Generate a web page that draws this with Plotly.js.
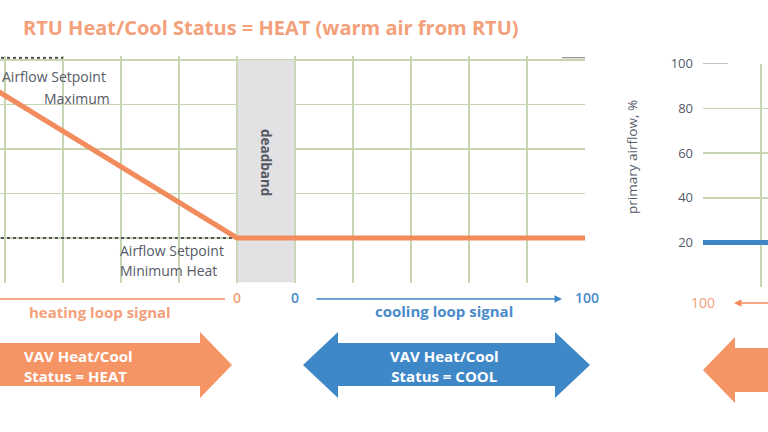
<!DOCTYPE html>
<html><head><meta charset="utf-8">
<script src="https://cdn.plot.ly/plotly-3.0.1.min.js"></script>
<style>html,body{margin:0;padding:0;background:#fff;}#chart{width:768px;height:432px;}</style>
</head><body><div id="chart"></div>
<script>
// ---------------- data ----------------
const heatingSignal = [100, 0];          // heating loop signal, % (left to right)
const coolingSignal = [0, 100];          // cooling loop signal, %
const airflowHeating = [100, 20];        // primary airflow, % at heating 100 / 0
const airflowCooling = [20, 20];         // primary airflow, % across cooling loop
const airflowMaxLine = [101, 101];       // Airflow Setpoint Maximum reference (drawn just above 100)
const airflowMinLine = [20, 20];         // Airflow Setpoint Minimum Heat reference
const rightSignal = [0, 2];              // right panel signal position (columns)
const airflowRight = [20, 20];           // right panel primary airflow, %
const airflowTicks = [20, 40, 60, 80, 100];
const airflowTickText = ['20', '40', '60', '80', '100'];
const signalEndText = ['0', '0', '100', '100'];

// ---------------- helpers ----------------
const STEP = 20;                          // signal % per grid column
const h2x = h => -h / STEP;               // heating signal -> axis position
const c2x = c => 1 + c / STEP;            // cooling signal -> axis position (deadband 0..1)
const W = 768, H = 432;
const px = v => v / W, py = v => 1 - v / H;
const PXPCT = 2.225;                      // pixels per airflow %
const YTOP = 101.6;                       // top of left plot range

const ORANGE = '#f28c5c', ORANGE_T = '#f4a07a', BLUE = '#3f86c7', BLUE_T = '#4a8bcb';
const GRID = 'rgb(200,213,178)', DARK = '#555a66';
const FONT = 'Open Sans, Lato, sans-serif';

const orangeX = [h2x(heatingSignal[0]), h2x(heatingSignal[1]), c2x(coolingSignal[1])];
const orangeY = [airflowHeating[0], airflowHeating[1], airflowCooling[1]];

const traces = [
  {x: [h2x(100), h2x(60)], y: airflowMaxLine, mode: 'lines', line: {color: '#444', width: 1.8, dash: 'dot'}, xaxis: 'x', yaxis: 'y', hoverinfo: 'skip'},
  {x: [c2x(92), c2x(100)], y: airflowMaxLine, mode: 'lines', line: {color: '#777', width: 1.2}, xaxis: 'x', yaxis: 'y', hoverinfo: 'skip'},
  {x: [h2x(100), h2x(0)], y: airflowMinLine, mode: 'lines', line: {color: '#555', width: 1.8, dash: 'dot'}, xaxis: 'x', yaxis: 'y', hoverinfo: 'skip'},
  {x: orangeX, y: orangeY, mode: 'lines', line: {color: ORANGE, width: 5}, xaxis: 'x', yaxis: 'y'},
  {x: [0, 0.43], y: [100, 100], mode: 'lines', line: {color: '#888', width: 1.2}, xaxis: 'x2', yaxis: 'y2', hoverinfo: 'skip'},
  {x: rightSignal, y: airflowRight, mode: 'lines', line: {color: BLUE, width: 5}, xaxis: 'x2', yaxis: 'y2'}
];

function pathPx(pts) {
  return 'M' + pts.map(p => px(p[0]).toFixed(5) + ',' + py(p[1]).toFixed(5)).join('L') + 'Z';
}

const shapes = [
  {type: 'rect', xref: 'x', yref: 'y', x0: 0, x1: 1, y0: 0, y1: 100, fillcolor: '#e2e2e5', line: {width: 0}, layer: 'between'},
  {type: 'line', xref: 'x', yref: 'y', x0: 0, x1: 0, y0: 0, y1: 100, line: {color: GRID, width: 1.5}, layer: 'between'},
  {type: 'line', xref: 'x', yref: 'y', x0: 1, x1: 1, y0: 0, y1: 100, line: {color: GRID, width: 1.5}, layer: 'between'},
  // heating loop signal axis line
  {type: 'line', xref: 'paper', yref: 'paper', x0: px(-5), x1: px(225), y0: py(299), y1: py(299), line: {color: ORANGE, width: 1.5}},
  // big arrows
  {type: 'path', xref: 'paper', yref: 'paper', path: pathPx([[-5,343],[200,343],[200,332],[232,365],[200,398],[200,386],[-5,386]]), fillcolor: '#f59465', line: {width: 0}},
  {type: 'path', xref: 'paper', yref: 'paper', path: pathPx([[303,365],[338,332],[338,343],[555,343],[555,332],[590,365],[555,398],[555,386],[338,386],[338,398]]), fillcolor: '#3f88c8', line: {width: 0}},
  {type: 'path', xref: 'paper', yref: 'paper', path: pathPx([[703,370],[735,337],[735,348],[775,348],[775,392],[735,392],[735,403]]), fillcolor: '#f59465', line: {width: 0}}
];

const tf = (size, color, weight) => ({family: FONT, size: size, color: color, weight: weight || 'normal'});
const ann = (o) => Object.assign({showarrow: false, xanchor: 'center', yanchor: 'middle'}, o);
const annotations = [
  ann({xref: 'paper', yref: 'paper', x: px(108), y: py(77), text: 'Airflow Setpoint', xanchor: 'right', font: tf(14, DARK)}),
  ann({xref: 'paper', yref: 'paper', x: px(112), y: py(98), text: 'Maximum', xanchor: 'right', font: tf(14, DARK)}),
  ann({xref: 'paper', yref: 'paper', x: px(118), y: py(250), text: 'Airflow Setpoint', xanchor: 'left', font: tf(14, DARK)}),
  ann({xref: 'paper', yref: 'paper', x: px(118), y: py(270), text: 'Minimum Heat', xanchor: 'left', font: tf(14, DARK)}),
  ann({xref: 'x', yref: 'paper', x: 0.5, y: py(163), text: 'deadband', textangle: 90, font: tf(13.5, DARK, 'bold')}),
  ann({xref: 'x', yref: 'paper', x: h2x(0), y: py(297), text: signalEndText[0], font: tf(14, ORANGE_T, 600)}),
  ann({xref: 'x', yref: 'paper', x: c2x(0), y: py(297), text: signalEndText[1], font: tf(14, BLUE_T, 600)}),
  ann({xref: 'paper', yref: 'paper', x: px(587), y: py(297), text: signalEndText[2], font: tf(14, BLUE_T, 600)}),
  ann({xref: 'x2', yref: 'paper', x: 0, y: py(302), text: signalEndText[3], font: tf(14, ORANGE_T)}),
  ann({xref: 'paper', yref: 'paper', x: px(100), y: py(312), text: 'heating loop signal', font: tf(15, ORANGE_T, 'bold')}),
  ann({xref: 'paper', yref: 'paper', x: px(444), y: py(311), text: 'cooling loop signal', font: tf(15, BLUE_T, 'bold')}),
  {xref: 'paper', yref: 'paper', x: px(562), y: py(299), ax: px(315), ay: py(299), axref: 'paper', ayref: 'paper', text: '', showarrow: true, arrowhead: 2, arrowsize: 1, arrowwidth: 1.5, arrowcolor: BLUE},
  {xref: 'paper', yref: 'paper', x: px(734), y: py(303), ax: px(790), ay: py(303), axref: 'paper', ayref: 'paper', text: '', showarrow: true, arrowhead: 2, arrowsize: 1, arrowwidth: 1.5, arrowcolor: ORANGE},
  ann({xref: 'paper', yref: 'paper', x: px(22), y: py(366), text: 'VAV Heat/Cool<br>Status = HEAT', align: 'left', xanchor: 'left', font: tf(15, '#fff', 'bold')}),
  ann({xref: 'paper', yref: 'paper', x: px(444), y: py(366), text: 'VAV Heat/Cool<br>Status = COOL', align: 'center', font: tf(15, '#fff', 'bold')}),
  ann({xref: 'paper', yref: 'paper', x: px(632), y: py(157), text: 'primary airflow, %', textangle: -90, font: tf(13.5, DARK)})
];

const gridAxis = {showgrid: true, gridcolor: GRID, gridwidth: 1.5, zeroline: false, showline: false, ticks: '', fixedrange: true};

const layout = {
  width: W, height: H, margin: {l: 0, r: 0, t: 0, b: 0},
  paper_bgcolor: '#fff', plot_bgcolor: 'rgba(0,0,0,0)', showlegend: false,
  title: {text: 'RTU Heat/Cool Status = HEAT (warm air from RTU)', xref: 'container', yref: 'container', x: px(23), xanchor: 'left', y: py(28), yanchor: 'middle', font: tf(20, ORANGE_T, 'bold')},
  xaxis: Object.assign({}, gridAxis, {domain: [0, px(585)], range: [h2x(81.72), c2x(100)], tickmode: 'array', tickvals: [-4,-3,-2,-1,0,1,2,3,4,5], showticklabels: false, anchor: 'y'}),
  yaxis: Object.assign({}, gridAxis, {domain: [py(282.5), py(282.5 - YTOP * PXPCT)], range: [0, YTOP], tickmode: 'array', tickvals: airflowTicks, showticklabels: false, anchor: 'x'}),
  xaxis2: Object.assign({}, gridAxis, {domain: [px(703), 1], range: [0, 65 / 58], tickmode: 'array', tickvals: [1], showticklabels: false, anchor: 'y2'}),
  yaxis2: Object.assign({}, gridAxis, {domain: [py(287.25), py(63.5)], range: [0, 100], tickmode: 'array', tickvals: airflowTicks, ticktext: airflowTickText, showticklabels: true, ticklabelstandoff: 9, tickfont: tf(13, DARK), anchor: 'x2'}),
  shapes: shapes, annotations: annotations
};

Plotly.newPlot('chart', traces, layout, {staticPlot: true, displayModeBar: false});
</script></body></html>
